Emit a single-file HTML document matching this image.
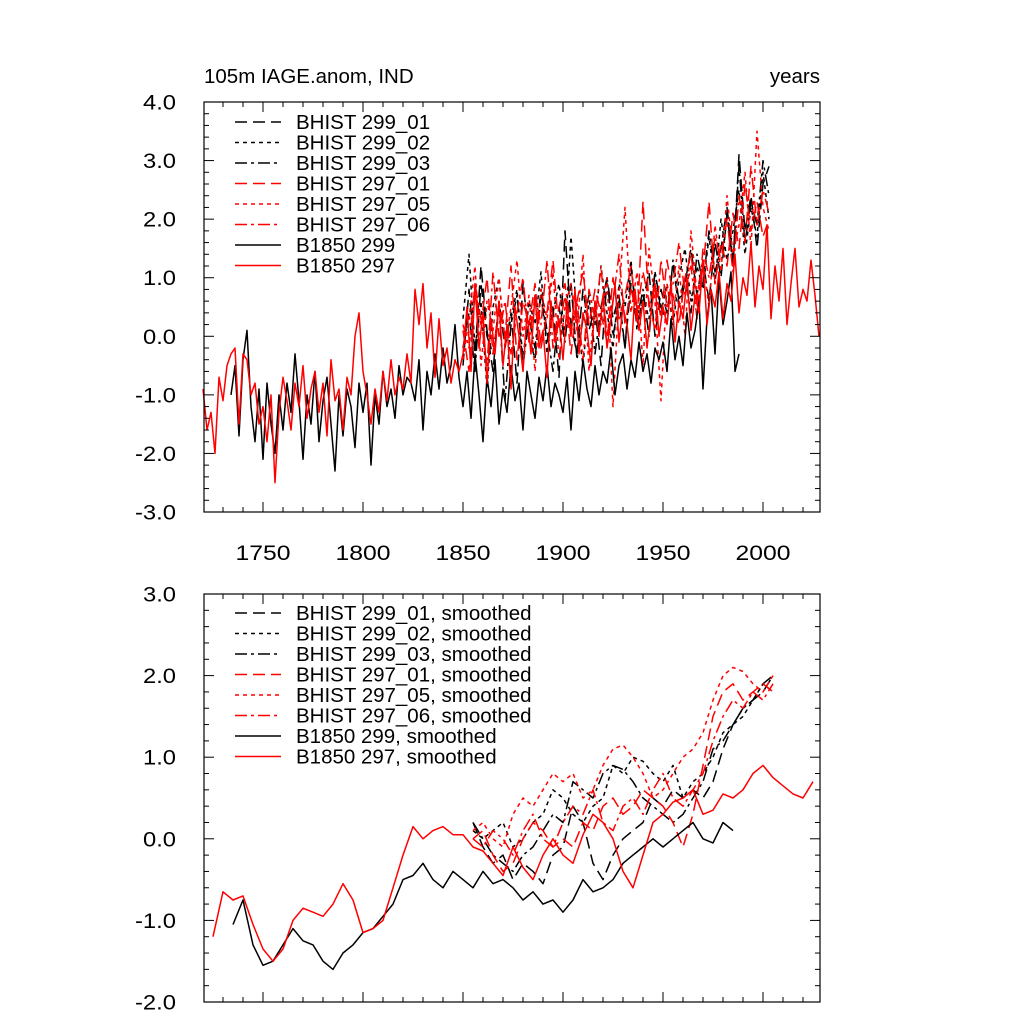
<!DOCTYPE html>
<html><head><meta charset="utf-8"><style>
html,body{margin:0;padding:0;background:#fff;}
svg{display:block;font-family:"Liberation Sans",sans-serif;}
</style></head><body>
<svg id="c" width="1024" height="1024" viewBox="0 0 1024 1024" xmlns="http://www.w3.org/2000/svg">
<text x="204" y="83" font-size="20.5">105m IAGE.anom, IND</text>
<text x="820" y="83" font-size="20.5" text-anchor="end">years</text>
</svg>
<script>
// ---- data: top panel (annual, step 2 years) ----
const red297Start = 1720;
const red297 = [-0.9,-1.6,-1.3,-2.0,-0.7,-1.1,-0.5,-0.3,-0.2,-1.5,-0.3,-0.4,-1.0,-0.8,-1.5,
-1.2,-1.8,-1.0,-2.5,-1.3,-0.7,-1.1,-1.6,-0.8,-1.2,-0.5,-1.4,-0.9,-0.6,-1.3,-0.8,-1.7,-0.4,-1.1,-0.9,-1.6,-0.7,-1.0,0.0,0.4,
-0.6,-1.0,-1.5,-0.9,-1.3,-0.6,-1.1,-0.4,-1.0,-0.7,-0.9,-0.3,-0.8,0.8,0.2,0.9,-0.2,0.4,-0.7,0.3,-0.5,-0.2,-0.8,-0.4,-0.6,
-0.3,0.5,-0.6,0.9,-0.2,0.4,-0.8,0.3,-0.3,0.6,-0.5,0.2,-0.9,0.5,0.0,-0.6,0.4,-0.3,0.7,-0.2,0.1,-0.7,0.6,-0.1,0.3,
-0.4,0.5,0.0,0.8,-0.3,0.4,0.1,-0.5,0.6,0.0,0.7,-0.2,0.3,0.9,-0.1,0.5,0.2,-0.4,0.8,0.1,0.6,-0.2,0.4,0.9,0.0,
0.5,0.2,0.9,-0.1,0.6,0.3,1.0,0.1,0.7,0.4,1.3,0.2,0.8,0.5,1.1,0.3,0.9,0.6,1.4,0.4,1.0,0.7,1.6,0.5,1.2,
0.8,1.9,0.3,1.2,0.6,1.5,0.2,0.9,1.5,0.5,0.8,0.6,1.3,0.7,0.0];
const black299Start = 1734;
const black299 = [-1.0,-0.5,-1.7,-0.4,0.1,-1.2,-1.8,-0.9,
-2.1,-0.8,-1.5,-2.0,-1.0,-1.6,-0.8,-1.3,-0.3,-1.1,-2.1,-1.0,-1.5,-0.6,-1.8,-1.1,-0.7,-1.5,-2.3,-1.0,-1.7,-0.9,-1.2,-1.9,-0.8,
-1.3,-0.8,-2.2,-1.0,-1.5,-0.6,-1.2,-0.9,-1.4,-0.5,-1.0,-0.7,-0.8,-1.1,-0.4,-1.6,-0.6,-1.0,-0.3,-0.9,-0.2,-0.8,-0.5,0.2,-0.7,
-1.2,-0.6,-1.4,-0.3,-1.0,-1.8,-0.7,-1.2,-0.4,-1.5,-0.9,-1.3,-0.5,-1.1,-0.8,-1.6,-0.6,-1.0,-1.4,-0.7,-1.1,-0.5,-1.2,-0.8,-1.0,
-1.3,-0.7,-1.6,-0.6,-1.1,-0.4,-0.9,-1.2,-0.5,-1.0,-0.6,-0.8,-0.2,-1.0,-0.5,-0.3,-0.9,-0.4,-0.7,-0.1,-0.6,-0.3,-0.8,-0.2,-0.4,
-0.1,-0.6,0.3,-0.4,0.0,-0.5,0.4,-0.2,0.1,0.6,-0.9,0.3,0.8,-0.3,1.0,0.2,0.6,1.1,-0.6,-0.3];
const histStart = 1850; // step 3 years
const h299_01 = [-0.5,0.8,-0.3,1.2,0.1,-0.6,0.6,-0.2,0.4,-0.8,0.9,0.0,-0.4,0.7,-0.1,0.5,-0.7,1.8,0.2,-0.3,0.8,0.1,0.5,-0.5,1.0,0.3,0.7,-0.2,0.9,0.2,0.6,1.1,0.0,0.8,0.4,1.2,0.5,0.9,1.5,0.7,1.3,0.6,1.6,1.0,2.1,1.2,3.1,1.8,2.4,1.5,2.6,2.9];
const h299_02 = [0.3,1.4,-0.2,0.6,-0.9,0.5,1.0,-0.1,0.3,0.8,-0.4,0.6,0.2,1.1,-0.3,0.4,0.9,0.0,1.7,0.3,-0.5,0.6,0.2,1.2,0.4,-0.2,0.9,0.5,1.3,0.1,0.7,0.3,1.1,0.4,0.9,0.2,1.0,1.5,0.6,1.2,0.8,1.7,0.9,2.0,1.3,1.8,2.5,1.4,2.2,1.7,2.8,2.0];
const h299_03 = [-0.2,0.4,-0.6,0.9,0.0,-0.3,0.5,-1.1,0.2,0.7,-0.5,0.3,-0.2,0.8,0.1,-0.6,0.5,-0.1,0.9,-0.4,0.3,0.7,-0.3,0.5,1.0,0.0,0.6,-0.2,1.2,0.3,0.8,0.0,1.1,0.5,0.2,1.3,0.6,1.0,0.4,1.4,0.9,1.8,1.1,1.5,2.2,1.3,2.9,1.6,2.3,1.9,3.0,2.4];
const h297_01 = [0.1,-0.6,0.7,0.2,1.0,-0.3,0.5,0.0,1.2,-0.4,0.6,0.2,0.9,-0.2,0.4,1.3,0.1,0.7,-0.3,0.6,1.1,0.2,0.8,0.4,-0.1,1.0,0.3,0.7,1.2,0.2,2.3,0.5,0.9,0.3,1.3,0.7,0.2,1.0,1.4,0.6,1.1,2.3,0.9,1.6,1.2,2.1,1.5,2.6,1.8,2.3,1.7,2.0];
const h297_05 = [-0.4,0.3,1.2,-0.5,0.6,0.1,1.0,-0.2,0.5,1.3,0.0,0.7,-0.6,0.8,0.3,1.1,-0.4,0.5,0.9,0.1,1.4,-0.6,0.6,0.2,1.0,-1.2,0.7,2.2,0.4,1.1,-0.5,1.5,0.6,-1.1,0.9,0.3,1.2,0.0,1.8,0.7,1.3,0.5,1.9,1.1,2.4,1.4,1.9,2.8,1.5,3.5,2.2,1.8];
const h297_06 = [0.2,-0.2,0.9,0.3,-0.5,1.1,0.0,0.6,-0.3,0.4,1.0,-0.1,0.7,0.2,1.3,-0.2,0.5,0.9,0.1,0.6,-0.4,0.8,0.3,1.2,0.0,0.6,1.4,0.2,0.8,0.4,1.1,0.6,0.1,1.3,0.5,0.9,1.6,0.7,1.2,0.3,1.5,1.0,1.7,1.3,2.0,1.1,2.4,1.6,2.9,1.9,2.5,2.1];
// ---- data: bottom panel (smoothed, step 5 years) ----
const sRed297Start = 1725;
const sRed297 = [-1.2,-0.65,-0.75,-0.7,-1.05,-1.35,-1.5,-1.35,-1.0,-0.85,-0.9,-0.95,-0.8,-0.55,-0.75,-1.15,-1.1,-1.0,-0.6,-0.2,0.15,0.0,0.1,0.15,0.05,
0.05,-0.1,-0.15,-0.3,-0.45,-0.1,-0.35,-0.5,-0.2,0.0,-0.2,-0.3,0.05,0.3,0.2,0.0,-0.4,-0.6,-0.2,0.2,0.3,0.45,0.5,0.6,0.3,0.35,0.55,0.5,0.6,0.8,0.9,0.75,0.65,0.55,0.5,0.7];
const sBlack299Start = 1735;
const sBlack299 = [-1.05,-0.75,-1.3,-1.55,-1.5,-1.3,-1.1,-1.25,-1.3,-1.5,-1.6,-1.4,-1.3,-1.15,-1.1,-0.95,-0.8,-0.5,-0.45,-0.3,-0.5,-0.6,-0.4,-0.5,-0.6,-0.4,-0.55,-0.5,-0.6,-0.75,-0.65,-0.8,-0.75,-0.9,-0.75,-0.5,-0.65,-0.6,-0.5,-0.3,-0.2,-0.1,0.0,-0.1,0.0,0.1,0.2,0.0,-0.05,0.2,0.1];
const sHistStart = 1855;
const s299_01 = [0.2,-0.1,-0.3,-0.2,-0.5,-0.3,-0.4,-0.55,-0.2,-0.1,0.4,0.2,-0.3,-0.5,-0.2,0.0,0.1,0.2,0.5,0.4,0.6,0.5,0.6,0.5,0.7,1.1,1.4,1.6,1.7,1.8,2.0];
const s299_02 = [0.1,0.0,0.1,0.2,-0.1,0.0,0.2,0.3,0.6,0.5,0.3,0.2,0.4,0.5,0.9,0.8,1.0,0.95,0.8,0.7,0.9,0.5,0.7,0.8,1.0,1.3,1.4,1.5,1.7,1.9,1.8];
const s299_03 = [0.2,0.0,-0.2,-0.3,-0.4,-0.2,-0.1,0.1,0.3,0.2,0.7,0.6,0.5,0.8,0.9,0.85,0.7,0.5,0.4,0.3,0.2,0.3,0.5,0.7,1.1,1.2,1.4,1.6,1.7,1.9,2.0];
const s297_01 = [0.0,0.1,-0.2,-0.4,-0.3,0.0,0.2,0.1,-0.1,0.0,-0.1,0.2,0.1,0.4,0.5,0.3,0.4,0.6,0.5,0.4,0.2,-0.1,0.3,0.9,1.5,1.8,1.9,1.7,1.8,1.9,1.8];
const s297_05 = [0.1,0.2,0.0,-0.1,0.3,0.5,0.4,0.6,0.8,0.7,0.8,0.5,0.6,0.9,1.1,1.15,1.0,0.8,0.5,0.6,0.8,1.0,1.1,1.3,1.7,2.0,2.1,2.05,1.9,1.8,2.0];
const s297_06 = [0.0,-0.1,0.1,0.0,-0.2,0.1,0.3,0.0,-0.1,0.2,0.4,0.3,0.6,0.2,0.1,0.4,0.5,0.3,0.6,0.8,0.5,0.4,0.6,0.8,1.2,1.5,1.7,1.6,1.8,1.7,1.9];
const xTicks = [1750,1800,1850,1900,1950,2000];
const topYTicks = [4,3,2,1,0,-1,-2,-3];
const botYTicks = [3,2,1,0,-1,-2];
const legendTop = ["BHIST 299_01","BHIST 299_02","BHIST 299_03","BHIST 297_01","BHIST 297_05","BHIST 297_06","B1850 299","B1850 297"];
const legendBot = legendTop.map(s=>s+", smoothed");

const svg = document.getElementById('c');
const NS = "http://www.w3.org/2000/svg";
const X0=204, X1=820, YR0=1720.5, YR1=2028.5;
const sx = y => X0 + (y-YR0)/(YR1-YR0)*(X1-X0);
function mk(tag, attrs, parent){const e=document.createElementNS(NS,tag);for(const k in attrs)e.setAttribute(k,attrs[k]);(parent||svg).appendChild(e);return e;}
const styles = [
 {c:'#000',d:'12,6'},{c:'#000',d:'4,4'},{c:'#000',d:'12,4,3,4'},
 {c:'#f00',d:'12,6'},{c:'#f00',d:'4,4'},{c:'#f00',d:'12,4,3,4'},
 {c:'#000',d:''},{c:'#f00',d:''}];

function panel(name, top, bot, ymax, ymin, yTicks, showXLabels, series, legend, legY){
  const sy = v => top + (ymax-v)/(ymax-ymin)*(bot-top);
  const g = mk('g',{});
  
  
  series.forEach((s,i)=>{
    let d='';
    s.vals.forEach((v,j)=>{d+=(j?'L':'M')+sx(s.start+j*s.step).toFixed(1)+','+sy(v).toFixed(1);});
    const p = mk('path',{d:d,fill:'none',stroke:styles[s.st].c,'stroke-width':1.5,'stroke-dasharray':styles[s.st].d,'stroke-linejoin':'round'},g);
    
    
  });
  const f = mk('rect',{x:X0,y:top,width:X1-X0,height:bot-top,fill:'none',stroke:'#000','stroke-width':1.2},g);
  
  
  for(let yr=1730; yr<=2020; yr+=10){
    const x=sx(yr), major=yr%50===0, L=major?10:5;
    mk('line',{x1:x,y1:bot,x2:x,y2:bot-L,stroke:'#000','stroke-width':1},g);
    mk('line',{x1:x,y1:top,x2:x,y2:top+L,stroke:'#000','stroke-width':1},g);
  }
  if(showXLabels) xTicks.forEach(t=>{
    const tx = mk('text',{x:sx(t),y:bot+48,'font-size':21,'text-anchor':'middle',textLength:55,lengthAdjust:'spacingAndGlyphs'},g);
    tx.textContent=t;
    
    
  });
  for(let v=ymin; v<=ymax+1e-6; v+=0.2){
    const y=sy(v), major=Math.abs(v-Math.round(v))<1e-6, L=major?10:5;
    mk('line',{x1:X0,y1:y,x2:X0+L,y2:y,stroke:'#000','stroke-width':1},g);
    mk('line',{x1:X1,y1:y,x2:X1-L,y2:y,stroke:'#000','stroke-width':1},g);
  }
  yTicks.forEach(v=>{
    const s=v.toFixed(1);
    const tx = mk('text',{x:176,y:sy(v)+7.5,'font-size':21,'text-anchor':'end',textLength:(s.length===4?41:33),lengthAdjust:'spacingAndGlyphs'},g);
    tx.textContent=s;
    
    
  });
  legend.forEach((lab,i)=>{
    const y = legY + i*20.5;
    const ln = mk('line',{x1:235,y1:y,x2:281,y2:y,stroke:styles[i].c,'stroke-width':1.5,'stroke-dasharray':styles[i].d},g);
    
    
    const tx = mk('text',{x:296,y:y+7,'font-size':20.5},g);
    tx.textContent=lab;
    
    
  });
}
const topSeries = [
 {vals:h299_01,start:histStart,step:3,st:0},{vals:h299_02,start:histStart,step:3,st:1},{vals:h299_03,start:histStart,step:3,st:2},
 {vals:h297_01,start:histStart,step:3,st:3},{vals:h297_05,start:histStart,step:3,st:4},{vals:h297_06,start:histStart,step:3,st:5},
 {vals:black299,start:black299Start,step:2,st:6},{vals:red297,start:red297Start,step:2,st:7}];
const botSeries = [
 {vals:s299_01,start:sHistStart,step:5,st:0},{vals:s299_02,start:sHistStart,step:5,st:1},{vals:s299_03,start:sHistStart,step:5,st:2},
 {vals:s297_01,start:sHistStart,step:5,st:3},{vals:s297_05,start:sHistStart,step:5,st:4},{vals:s297_06,start:sHistStart,step:5,st:5},
 {vals:sBlack299,start:sBlack299Start,step:5,st:6},{vals:sRed297,start:sRed297Start,step:5,st:7}];
panel('top-panel',102,512,4,-3,topYTicks,true,topSeries,legendTop,122);
panel('bottom-panel',594,1002,3,-2,botYTicks,false,botSeries,legendBot,613);
</script>
</body></html>
